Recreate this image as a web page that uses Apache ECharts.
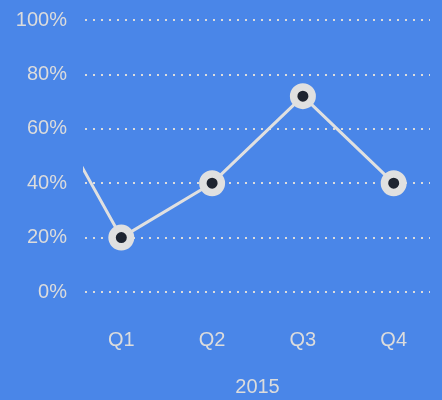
<!DOCTYPE html>
<html>
<head>
<meta charset="utf-8">
<script src="https://cdn.jsdelivr.net/npm/echarts@6/dist/echarts.min.js"></script>
<style>
  html, body { margin: 0; padding: 0; background: #4a86e8; }
  #chart { width: 442px; height: 400px; }
</style>
</head>
<body>
<div id="chart"></div>
<script>
  // 季度位置（0 为上一季度，落在可视区左侧之外，只露出一段线）
  const xPositions = [0, 1, 2, 3, 4];
  const values = [80, 20, 40, 72, 40];
  const quarterTicks = [1, 2, 3, 4];
  const quarterLabels = ['Q1', 'Q2', 'Q3', 'Q4'];
  const yTicks = [0, 20, 40, 60, 80, 100];
  const yearName = '2015';

  const textColor = '#dcdcdc';
  const lineData = xPositions.map((x, i) => ({
    value: [x, values[i]],
    symbol: i === 0 ? 'none' : 'circle'
  }));

  const chart = echarts.init(document.getElementById('chart'));
  chart.setOption({
    backgroundColor: '#4a86e8',
    animation: false,
    grid: { left: 85, right: 12, top: 20, bottom: 108, outerBoundsMode: 'none' },
    xAxis: {
      type: 'value',
      min: 0.6,
      max: 4.4,
      name: yearName,
      nameLocation: 'middle',
      nameGap: 85,
      nameTextStyle: { color: textColor, fontSize: 20, fontFamily: 'Liberation Sans' },
      axisLine: { show: false },
      axisTick: { show: false },
      splitLine: { show: false },
      axisLabel: {
        customValues: quarterTicks,
        color: textColor,
        fontSize: 20,
        fontFamily: 'Liberation Sans',
        margin: 38,
        formatter: v => quarterLabels[quarterTicks.indexOf(Math.round(v))] || ''
      }
    },
    yAxis: {
      type: 'value',
      min: yTicks[0],
      max: yTicks[yTicks.length - 1],
      interval: 20,
      axisLine: { show: false },
      axisTick: { show: false },
      axisLabel: {
        color: textColor,
        fontSize: 20,
        fontFamily: 'Liberation Sans',
        margin: 18,
        formatter: '{value}%'
      },
      splitLine: {
        lineStyle: { color: '#dcdcdc', width: 2, type: [2, 6] }
      }
    },
    series: [{
      type: 'line',
      data: lineData,
      clip: true,
      symbolSize: 18.5,
      lineStyle: { color: '#e0e0e0', width: 3 },
      itemStyle: { color: '#1e2430', borderColor: '#e0e0e0', borderWidth: 7.5 }
    }]
  });
</script>
</body>
</html>
